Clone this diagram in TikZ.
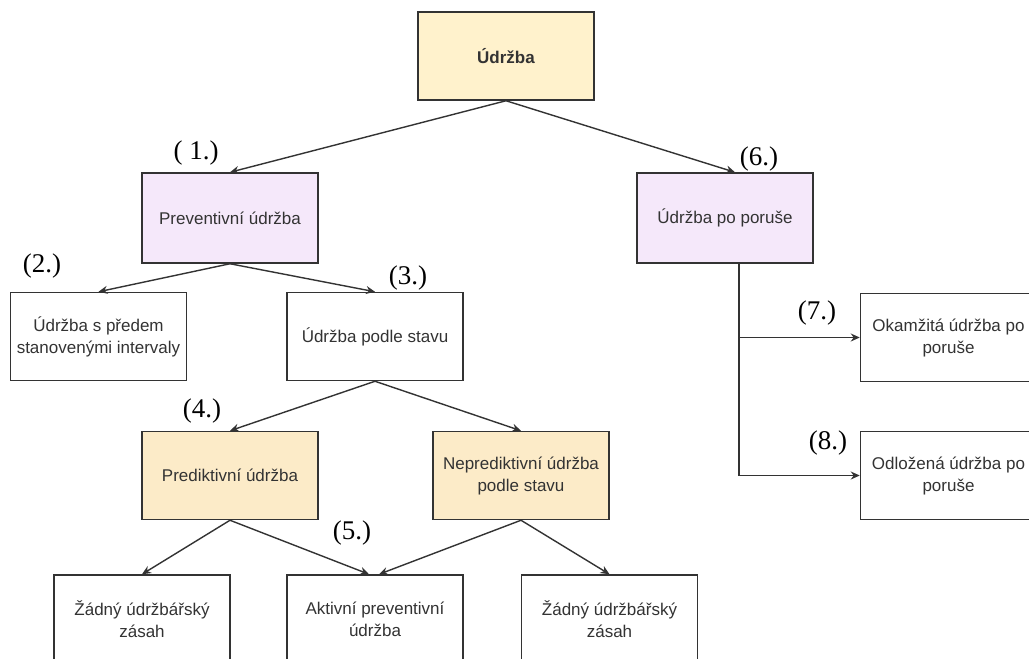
\documentclass[tikz,border=0pt]{standalone}
\usepackage{fontspec}
\setmainfont{Liberation Serif}
\newfontfamily\boxfont{Liberation Sans}
\usetikzlibrary{arrows.meta,positioning}
\definecolor{okraj}{HTML}{333333}
\definecolor{zluta}{HTML}{FFF2CC}
\definecolor{bezova}{HTML}{FCEBC8}
\definecolor{fialova}{HTML}{F5E8FA}

\begin{document}
\begin{tikzpicture}[
				x = 1pt, y = -1pt,
				box/.style = {draw = okraj, line width = 1.5pt, minimum width = 176pt, minimum height = 88pt, align = center, text = okraj, inner sep = 2pt, font = \boxfont\fontsize{17}{22}\selectfont},
				cislo/.style = {font = \fontsize{27}{30}\selectfont},
				sipka/.style = {draw = okraj, line width = 1.4pt, -{Stealth[length=9pt,width=8pt]}}
				]
				\fill [white] (0,0) rectangle (1029,659);
				\useasboundingbox (0,0) rectangle (1029,659);
				\clip (0,0) rectangle (1029,659);
				
				% krabice
				\node [box, fill = zluta, font = \boxfont\bfseries\fontsize{17}{22}\selectfont] (udrzba) at (506,56) {Údržba};
				\node [box, fill = fialova, minimum height = 90pt] (prev) at (230,218) {Preventivní údržba};
				\node [box, fill = fialova, minimum height = 90pt] (porucha) at (725,218) {Údržba po poruše};
				\node [box] (interval) at (98.5,336.5) {Údržba s předem\\stanovenými intervaly};
				\node [box] (stav) at (375,336.5) {Údržba podle stavu};
				\node [box, fill = bezova] (predikt) at (230,475.5) {Prediktivní údržba};
				\node [box, fill = bezova] (nepredikt) at (521,475.5) {Neprediktivní údržba\\podle stavu};
				\node [box] (zadny1) at (142,619) {Žádný údržbářský\\zásah};
				\node [box] (aktivni) at (375,619) {Aktivní preventivní\\údržba};
				\node [box] (zadny2) at (609.5,619) {Žádný údržbářský\\zásah};
				\node [box] (okamzita) at (948.5,337.5) {Okamžitá údržba po\\poruše};
				\node [box] (odlozena) at (948.5,475.5) {Odložená údržba po\\poruše};
				
				% cisla
				\node [cislo] (c1) at (196,153) {( 1.)};
				\node [cislo] (c2) at (42,266) {(2.)};
				\node [cislo] (c3) at (408,278) {(3.)};
				\node [cislo] (c4) at (202,411) {(4.)};
				\node [cislo] (c5) at (352,533) {(5.)};
				\node [cislo] (c6) at (759,159) {(6.)};
				\node [cislo] (c7) at (817,313) {(7.)};
				\node [cislo] (c8) at (828,443) {(8.)};
				
				% sipky
				\draw [sipka] (udrzba.south) -- (prev.north);
				\draw [sipka] (udrzba.south) -- ([xshift=10pt]porucha.north);
				\draw [sipka] (prev.south) -- (interval.north);
				\draw [sipka] (prev.south) -- (stav.north);
				\draw [sipka] (stav.south) -- (predikt.north);
				\draw [sipka] (stav.south) -- (nepredikt.north);
				\draw [sipka] (predikt.south) -- (zadny1.north);
				\draw [sipka] (predikt.south) -- ([xshift=-6pt]aktivni.north);
				\draw [sipka] (nepredikt.south) -- ([xshift=4pt]aktivni.north);
				\draw [sipka] (nepredikt.south) -- (zadny2.north);
				\draw [sipka] (porucha.south) ++(14,0) |- (okamzita.west);
				\draw [sipka] (porucha.south) ++(14,0) |- (odlozena.west);
			\end{tikzpicture}
\end{document}
